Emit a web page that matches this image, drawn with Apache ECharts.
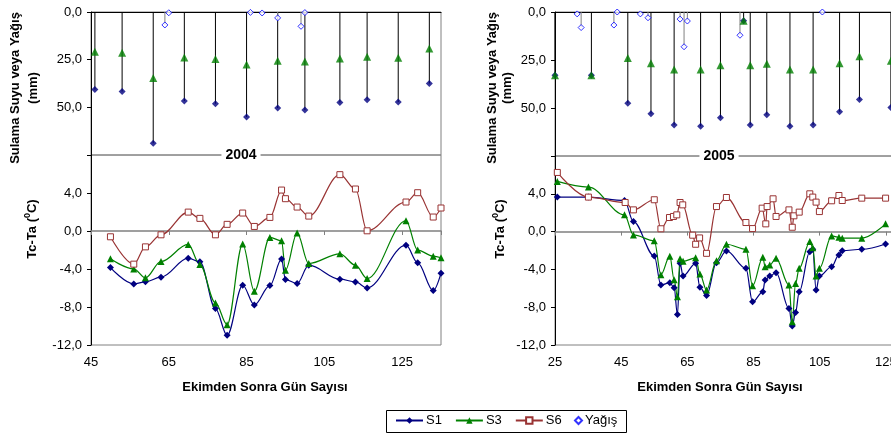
<!DOCTYPE html>
<html>
<head>
<meta charset="utf-8">
<script src="https://cdn.jsdelivr.net/npm/echarts@6/dist/echarts.min.js"></script>
<style>
  html, body { margin: 0; padding: 0; background: #fff; }
  #chart { width: 891px; height: 435px; }
</style>
</head>
<body>
<div id="chart"></div>
<script>
// 2004 - sulama / yagis (ust panel)
const irrDays04 = [46, 53, 61, 69, 77, 85, 93, 100, 109, 116, 124, 132];
const s1Irr04 = [40.7, 41.7, 68.9, 46.7, 48.1, 55.1, 50.4, 51.4, 47.5, 46.0, 47.2, 37.5];
const s3Irr04 = [20.9, 21.4, 34.6, 23.9, 24.6, 27.5, 25.6, 26.0, 24.4, 23.5, 24.0, 19.1];
const rainDays04 = [64, 65, 86, 89, 93, 99, 100];
const rain04 = [6.8, 0.4, 0.2, 0.5, 3.1, 7.5, 0.3];

// 2004 - Tc-Ta (alt panel)
const tcDays04 = [50, 56, 59, 63, 70, 73, 77, 80, 84, 87, 91, 94, 95, 98, 101, 109, 113, 116, 126, 129, 133, 135];
const s1Tc04 = [-3.85, -5.57, -5.35, -4.86, -2.86, -3.24, -8.17, -10.98, -5.71, -7.78, -5.74, -2.96, -5.11, -5.53, -3.60, -5.07, -5.36, -5.99, -1.49, -3.35, -6.27, -4.44];
const s3Tc04 = [-2.93, -3.99, -4.93, -3.21, -1.41, -3.53, -7.57, -9.86, -1.38, -6.34, -0.68, -1.03, -4.12, -0.22, -3.42, -2.40, -3.60, -5.00, 1.08, -2.01, -2.65, -2.82];
const s6Tc04 = [-0.61, -3.49, -1.67, -0.40, 1.99, 1.33, -0.40, 0.70, 1.89, 0.48, 1.43, 4.31, 3.40, 2.52, 1.57, 5.93, 4.42, 0.02, 3.05, 4.03, 1.47, 2.42];

// 2005 - sulama / yagis
const irrDays05 = [25, 36, 47, 54, 61, 69, 75, 82, 84, 89, 96, 103, 111, 117, 126.5];
const s1Irr05 = [33.0, 33.0, 47.5, 53.0, 58.8, 59.5, 55.1, 4.6, 58.8, 53.5, 59.5, 58.8, 51.9, 45.6, 49.8];
const s3Irr05 = [33.0, 33.0, 23.9, 26.7, 30.0, 30.0, 27.7, 4.6, 27.7, 27.0, 30.0, 30.0, 26.7, 23.0, 25.4];
const rainDays05 = [31.7, 32.9, 42.8, 43.8, 50.8, 53.1, 62.8, 64.0, 65.0, 80.9, 105.8];
const rain05 = [1.0, 8.1, 6.8, 0.0, 1.0, 3.0, 3.7, 18.1, 4.7, 12.1, 0.0];

// 2005 - Tc-Ta
const tcDays05 = [25.7, 35.1, 46, 48.7, 55, 57, 59.7, 61, 62, 62.8, 63.7, 67.5, 68.8, 70.8, 73.8, 76.8, 82.7, 84.7, 87.8, 88.5, 89.9, 91.8, 95.7, 96.7, 97.7, 98.8, 102, 102.9, 103.9, 104.9, 108.6, 110.8, 111.8, 117.7, 124.9];
const s1Tc05 = [3.65, 3.65, 3.29, 1.06, -2.58, -5.66, -5.41, -5.94, -8.77, -3.36, -4.70, -3.36, -5.90, -6.75, -3.29, -2.05, -3.89, -7.43, -6.37, -5.13, -4.70, -4.35, -8.13, -9.98, -8.56, -6.37, -2.12, -1.87, -6.19, -4.70, -3.72, -2.47, -2.02, -1.87, -1.31];
const s3Tc05 = [5.31, 4.71, 1.77, -0.35, -0.97, -4.56, -2.60, -5.10, -6.90, -2.88, -3.15, -2.78, -4.49, -6.19, -3.08, -1.34, -1.87, -5.73, -2.72, -3.72, -3.54, -2.83, -5.66, -9.55, -5.48, -3.89, -1.06, -1.70, -4.70, -3.89, -0.46, -0.60, -0.70, -0.70, 0.82];
const s6Days05 = [25.7, 35.1, 46.2, 48.7, 55, 57, 59.6, 60.8, 61.8, 62.8, 63.6, 66.6, 67.5, 68.7, 70.8, 73.8, 76.8, 82.7, 84.7, 87.6, 88.7, 89.1, 90.9, 91.8, 95.7, 96.7, 97.2, 98.8, 102, 102.9, 103.9, 104.9, 108.6, 110.8, 111.8, 117.7, 124.9];
const s6Tc05 = [6.26, 3.65, 3.08, 2.30, 3.37, 0.30, 1.49, 1.60, 1.77, 3.08, 2.83, -0.38, -1.34, -0.67, -2.30, 2.65, 3.61, 0.96, 0.32, 2.48, 0.82, 2.65, 3.47, 1.60, 2.30, 0.46, 1.67, 2.06, 4.00, 3.65, 3.12, 2.12, 3.26, 3.82, 3.29, 3.54, 3.54];

const FONT = 'Liberation Sans, Arial, sans-serif';
const C_S1 = '#000080', C_S3 = '#008000', C_S6 = '#993333', C_RAIN = '#0000ff';

const zip = (xs, ys) => xs.map((x, i) => [x, ys[i]]);
const fmt = v => v.toFixed(1).replace('.', ',');

const chart = echarts.init(document.getElementById('chart'));

// eksenler
const gridBase = { show: true, borderColor: '#808080', borderWidth: 1, backgroundColor: 'rgba(0,0,0,0)', containLabel: false, outerBoundsMode: 'none' };

function topX(grid, min) {
  return {
    type: 'value', gridIndex: grid, min: min, max: 135, interval: 20, position: 'top',
    axisLine: { show: true, onZero: false, lineStyle: { color: '#000', width: 1 } },
    axisTick: { show: false }, axisLabel: { show: false }, splitLine: { show: false }
  };
}
function zeroX(grid, min) {
  return {
    type: 'value', gridIndex: grid, min: min, max: 135, interval: 20, position: 'bottom',
    axisLine: { show: true, onZero: true, lineStyle: { color: '#808080', width: 1.5 } },
    axisTick: { show: true, length: 4, lineStyle: { color: '#808080' } },
    axisLabel: { show: false }, splitLine: { show: false }
  };
}
function labelX(grid, min) {
  return {
    type: 'value', gridIndex: grid, min: min, max: 135, interval: 20, position: 'bottom',
    axisLine: { show: false, onZero: false }, axisTick: { show: false }, splitLine: { show: false },
    axisLabel: { show: true, showMaxLabel: false, margin: 11, color: '#000', fontSize: 13, fontFamily: FONT }
  };
}
function topY(grid) {
  return {
    type: 'value', gridIndex: grid, min: 0, max: 75, interval: 25, inverse: true,
    axisLine: { show: true, lineStyle: { color: '#000' } },
    axisTick: { show: true, length: 4, lineStyle: { color: '#000' } },
    axisLabel: { color: '#000', fontSize: 13, fontFamily: FONT, margin: 9, formatter: v => v === 75 ? '' : fmt(v) },
    splitLine: { show: false }
  };
}
function tcY(grid) {
  return {
    type: 'value', gridIndex: grid, min: -12, max: 8, interval: 4,
    axisLine: { show: true, lineStyle: { color: '#000' } },
    axisTick: { show: true, length: 4, lineStyle: { color: '#000' } },
    axisLabel: { color: '#000', fontSize: 13, fontFamily: FONT, margin: 9, formatter: v => v === 8 ? '' : fmt(v) },
    splitLine: { show: false }
  };
}

function tcLine(name, data, color, symbol, size, xi, yi, hollow) {
  return {
    name: name, type: 'line', xAxisIndex: xi, yAxisIndex: yi, data: data,
    smooth: 0.35, smoothMonotone: 'x', showAllSymbol: true,
    symbol: symbol, symbolSize: size,
    lineStyle: { color: color, width: 1.2 },
    itemStyle: hollow ? { color: '#fff', borderColor: color, borderWidth: 1 } : { color: color },
    clip: false, z: 3
  };
}
function drops(data, color, xi, yi) {
  return {
    type: 'bar', xAxisIndex: xi, yAxisIndex: yi, data: data, barWidth: 1, barGap: '-100%',
    itemStyle: { color: color }, silent: true, z: 1
  };
}
function marks(name, data, symbol, size, style, xi, yi) {
  return {
    name: name, type: 'scatter', xAxisIndex: xi, yAxisIndex: yi, data: data,
    symbol: symbol, symbolSize: size, itemStyle: style, clip: false, z: 4
  };
}

const titleStyle = { fontSize: 13, fontWeight: 'bold', fontFamily: FONT, fill: '#000' };
function vText(x, y, text) {
  return { type: 'text', x: x, y: y, rotation: Math.PI / 2,
    style: Object.assign({ text: text, align: 'center', verticalAlign: 'middle' }, titleStyle) };
}
function tcTitle(x, y) {
  return { type: 'text', x: x, y: y, rotation: Math.PI / 2,
    style: Object.assign({ text: 'Tc-Ta ({s|0}C)', align: 'center', verticalAlign: 'middle',
      rich: { s: { fontSize: 9, fontWeight: 'bold', fontFamily: FONT, verticalAlign: 'top', padding: [0, 0, 9, 0] } } }, titleStyle) };
}

const option = {
  animation: false,
  grid: [
    Object.assign({ left: 91, top: 12, width: 350, height: 143 }, gridBase),
    Object.assign({ left: 91, top: 155, width: 350, height: 190 }, gridBase),
    Object.assign({ left: 555, top: 12, width: 364, height: 144 }, gridBase),
    Object.assign({ left: 555, top: 156, width: 364, height: 189 }, gridBase)
  ],
  xAxis: [topX(0, 45), zeroX(1, 45), labelX(1, 45), topX(2, 25), zeroX(3, 25), labelX(3, 25)],
  yAxis: [topY(0), tcY(1), topY(2), tcY(3)],
  legend: [
    { data: ['S1', 'S3', 'S6'], left: 395, top: 414, padding: 0, itemWidth: 27, itemHeight: 8, itemGap: 13,
      textStyle: { color: '#000', fontSize: 13, fontFamily: FONT, padding: [0, 0, 0, -2] }, selectedMode: false },
    { data: ['Yağış'], left: 574, top: 414, padding: 0, itemWidth: 7, itemHeight: 7,
      textStyle: { color: '#000', fontSize: 13, fontFamily: FONT, padding: [0, 0, 0, -2] }, selectedMode: false }
  ],
  graphic: [
    { type: 'rect', shape: { x: 386.5, y: 410.5, width: 240, height: 22 }, style: { fill: '#fff', stroke: '#000', lineWidth: 1 }, z: -10 },
    vText(15, 88, 'Sulama Suyu veya Yağış'), vText(33, 88, '(mm)'),
    vText(492, 88, 'Sulama Suyu veya Yağış'), vText(507, 88, '(mm)'),
    tcTitle(32, 229), tcTitle(500, 229),
    { type: 'text', x: 265, y: 387, style: Object.assign({ text: 'Ekimden Sonra Gün Sayısı', align: 'center', verticalAlign: 'middle' }, titleStyle) },
    { type: 'text', x: 720, y: 387, style: Object.assign({ text: 'Ekimden Sonra Gün Sayısı', align: 'center', verticalAlign: 'middle' }, titleStyle) },
    { type: 'text', x: 241, y: 155, z: 10, style: Object.assign({ text: '2004', align: 'center', verticalAlign: 'middle', backgroundColor: '#fff', padding: [1, 4] }, titleStyle, { fontSize: 14 }) },
    { type: 'text', x: 719, y: 156, z: 10, style: Object.assign({ text: '2005', align: 'center', verticalAlign: 'middle', backgroundColor: '#fff', padding: [1, 4] }, titleStyle, { fontSize: 14 }) }
  ],
  series: [
    tcLine('S1', zip(tcDays04, s1Tc04), C_S1, 'diamond', 7, 1, 1, false),
    tcLine('S3', zip(tcDays04, s3Tc04), C_S3, 'triangle', 7, 1, 1, false),
    tcLine('S6', zip(tcDays04, s6Tc04), C_S6, 'rect', 6, 1, 1, true),
    tcLine('S1', zip(tcDays05, s1Tc05), C_S1, 'diamond', 7, 4, 3, false),
    tcLine('S3', zip(tcDays05, s3Tc05), C_S3, 'triangle', 7, 4, 3, false),
    tcLine('S6', zip(s6Days05, s6Tc05), C_S6, 'rect', 6, 4, 3, true),

    drops(zip(irrDays04, s1Irr04), '#000', 0, 0),
    drops(zip(rainDays04, rain04), '#808080', 0, 0),
    marks('S1', zip(irrDays04, s1Irr04), 'diamond', 7, { color: C_S1 }, 0, 0),
    marks('S3', zip(irrDays04, s3Irr04), 'triangle', 8, { color: C_S3 }, 0, 0),
    marks('Yağış', zip(rainDays04, rain04), 'diamond', 6, { color: '#fff', borderColor: C_RAIN, borderWidth: 1 }, 0, 0),

    drops(zip(irrDays05, s1Irr05), '#000', 3, 2),
    drops(zip(rainDays05, rain05), '#808080', 3, 2),
    marks('S1', zip(irrDays05, s1Irr05), 'diamond', 7, { color: C_S1 }, 3, 2),
    marks('S3', zip(irrDays05, s3Irr05), 'triangle', 8, { color: C_S3 }, 3, 2),
    marks('Yağış', zip(rainDays05, rain05), 'diamond', 6, { color: '#fff', borderColor: C_RAIN, borderWidth: 1 }, 3, 2)
  ]
};

chart.setOption(option);
</script>
</body>
</html>
